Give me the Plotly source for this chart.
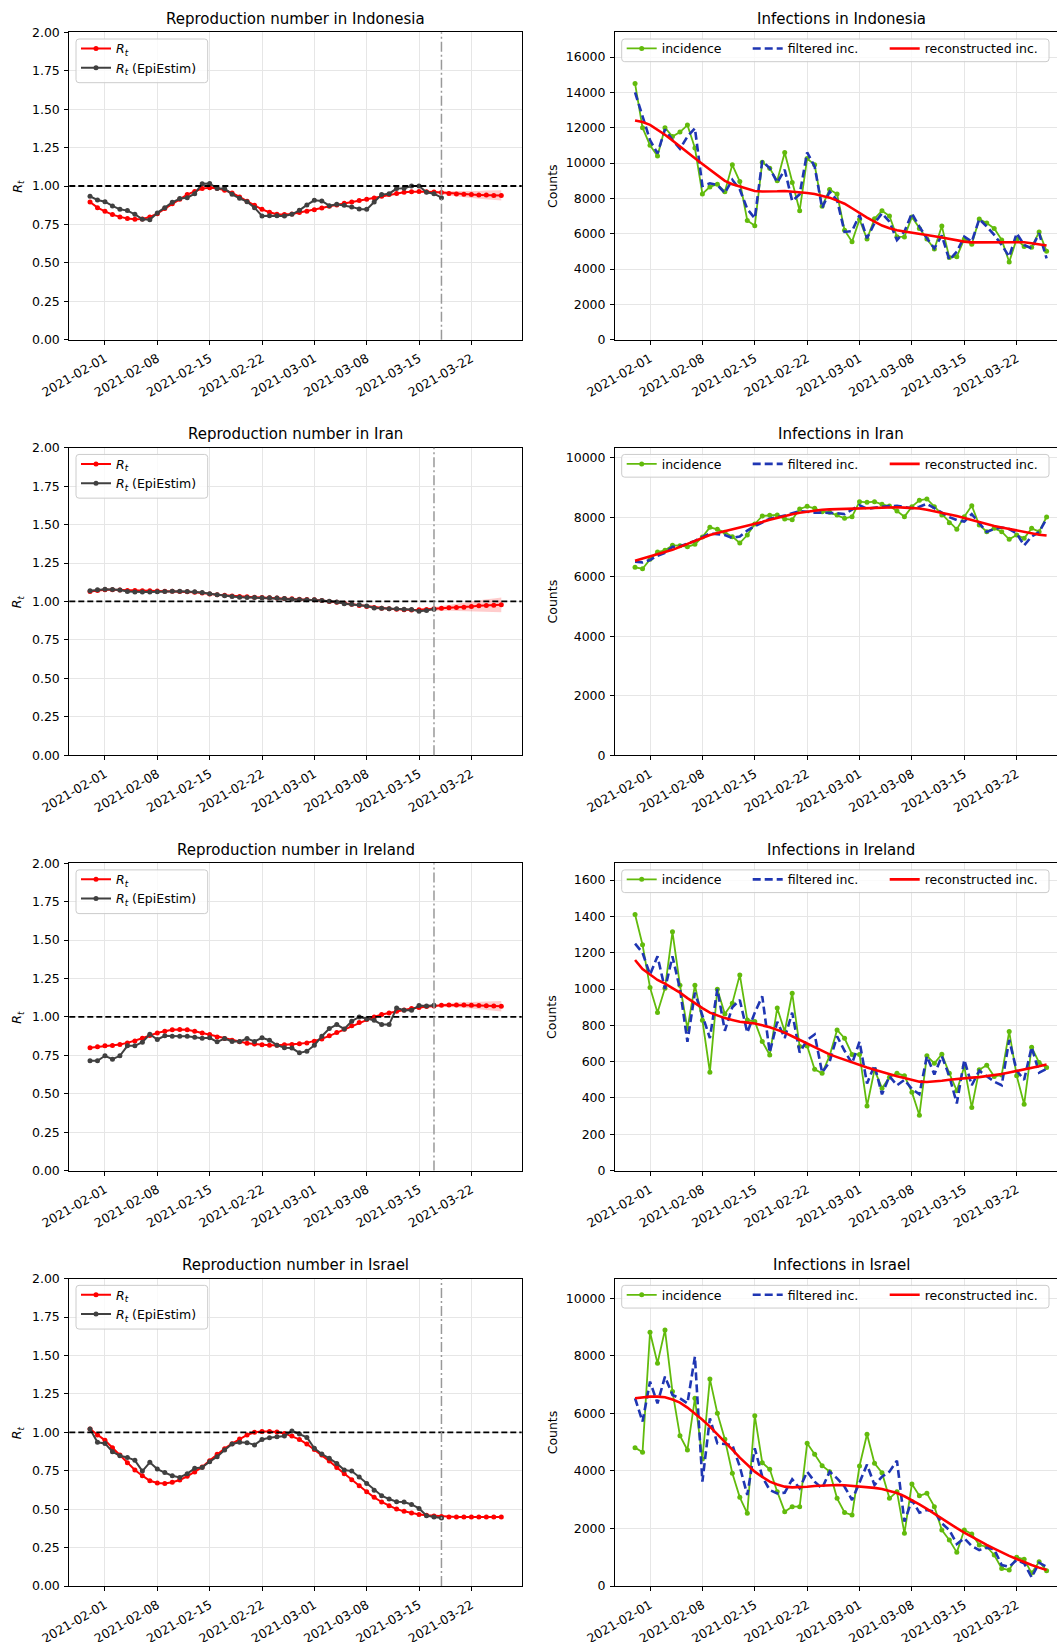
import pandas as pd
import plotly.graph_objects as go

# ---------------- data ----------------
dates = [d.strftime("%Y-%m-%d") for d in pd.date_range("2021-01-30", "2021-03-26", freq="D")]
tick_dates = ["2021-02-01", "2021-02-08", "2021-02-15", "2021-02-22",
              "2021-03-01", "2021-03-08", "2021-03-15", "2021-03-22"]
countries = ["Indonesia", "Iran", "Ireland", "Israel"]
cutoff_dates = ["2021-03-18", "2021-03-17", "2021-03-17", "2021-03-18"]
band_dates = dates[44:]
rt_threshold = 1.0

# Reproduction number (model) per country
rt_indonesia = [0.896, 0.859, 0.835, 0.814, 0.799, 0.788, 0.784, 0.786, 0.799, 0.820,
                0.853, 0.885, 0.913, 0.944, 0.965, 0.983, 0.989, 0.985, 0.972, 0.955,
                0.929, 0.900, 0.874, 0.848, 0.829, 0.816, 0.814, 0.818, 0.827, 0.835,
                0.846, 0.857, 0.868, 0.877, 0.887, 0.896, 0.905, 0.913, 0.922, 0.933,
                0.944, 0.952, 0.959, 0.963, 0.965, 0.963, 0.961, 0.957, 0.952, 0.948,
                0.946, 0.944, 0.942, 0.942, 0.939, 0.939]
rt_iran = [1.065, 1.072, 1.076, 1.076, 1.074, 1.072, 1.071, 1.070, 1.069, 1.068,
           1.067, 1.066, 1.065, 1.063, 1.060, 1.055, 1.048, 1.044, 1.040, 1.036,
           1.032, 1.030, 1.028, 1.026, 1.024, 1.022, 1.020, 1.017, 1.015, 1.013,
           1.011, 1.006, 1.000, 0.994, 0.989, 0.982, 0.974, 0.967, 0.961, 0.956,
           0.952, 0.949, 0.946, 0.945, 0.946, 0.948, 0.952, 0.956, 0.959, 0.961,
           0.963, 0.967, 0.972, 0.974, 0.976, 0.978]
rt_ireland = [0.799, 0.805, 0.812, 0.814, 0.820, 0.831, 0.844, 0.861, 0.879, 0.896,
              0.907, 0.916, 0.918, 0.916, 0.907, 0.896, 0.885, 0.870, 0.859, 0.848,
              0.838, 0.829, 0.823, 0.818, 0.816, 0.816, 0.818, 0.820, 0.825, 0.831,
              0.842, 0.857, 0.877, 0.898, 0.920, 0.942, 0.963, 0.983, 1.000, 1.015,
              1.026, 1.037, 1.045, 1.054, 1.061, 1.067, 1.071, 1.076, 1.078, 1.078,
              1.078, 1.076, 1.074, 1.072, 1.071, 1.069]
rt_israel = [1.022, 0.983, 0.948, 0.900, 0.852, 0.803, 0.755, 0.718, 0.685, 0.670,
             0.668, 0.675, 0.690, 0.714, 0.742, 0.774, 0.816, 0.857, 0.894, 0.926,
             0.957, 0.983, 1.000, 1.006, 1.006, 1.002, 0.993, 0.976, 0.954, 0.924,
             0.889, 0.852, 0.813, 0.772, 0.731, 0.692, 0.653, 0.614, 0.577, 0.547,
             0.523, 0.501, 0.486, 0.475, 0.466, 0.460, 0.456, 0.453, 0.450, 0.449,
             0.449, 0.449, 0.449, 0.449, 0.449, 0.449]

# Half-width of the uncertainty band (from 2021-03-15 onwards)
band_indonesia = [0.002, 0.004, 0.007, 0.010, 0.013, 0.016, 0.019, 0.022, 0.025, 0.028, 0.031, 0.034]
band_iran = [0.004, 0.008, 0.012, 0.016, 0.020, 0.024, 0.028, 0.032, 0.036, 0.040, 0.044, 0.048]
band_ireland = [0.002, 0.004, 0.007, 0.010, 0.013, 0.016, 0.019, 0.022, 0.025, 0.028, 0.031, 0.034]
band_israel = [0.001, 0.001, 0.002, 0.002, 0.003, 0.003, 0.004, 0.004, 0.005, 0.005, 0.006, 0.006]

# Reproduction number (EpiEstim)
epi_indonesia = [0.933, 0.909, 0.898, 0.870, 0.848, 0.840, 0.816, 0.784, 0.781, 0.825,
                 0.859, 0.894, 0.918, 0.924, 0.950, 1.015, 1.017, 0.983, 0.983, 0.946,
                 0.920, 0.898, 0.859, 0.805, 0.807, 0.807, 0.805, 0.816, 0.842, 0.877,
                 0.907, 0.903, 0.872, 0.881, 0.874, 0.864, 0.851, 0.848, 0.896, 0.944,
                 0.950, 0.983, 0.985, 1.000, 1.000, 0.959, 0.950, 0.924]
epi_iran = [1.069, 1.076, 1.080, 1.078, 1.074, 1.065, 1.061, 1.061, 1.061, 1.063,
            1.065, 1.067, 1.067, 1.065, 1.063, 1.058, 1.050, 1.043, 1.037, 1.032,
            1.028, 1.026, 1.026, 1.024, 1.024, 1.022, 1.020, 1.015, 1.013, 1.011,
            1.011, 1.006, 1.002, 0.996, 0.985, 0.981, 0.978, 0.970, 0.957, 0.955,
            0.952, 0.952, 0.950, 0.948, 0.937, 0.941, 0.950]
epi_ireland = [0.714, 0.714, 0.747, 0.725, 0.747, 0.812, 0.812, 0.835, 0.887, 0.853,
               0.877, 0.874, 0.874, 0.874, 0.868, 0.861, 0.864, 0.838, 0.859, 0.840,
               0.840, 0.859, 0.840, 0.864, 0.848, 0.816, 0.799, 0.797, 0.766, 0.777,
               0.816, 0.874, 0.924, 0.950, 0.922, 0.972, 1.000, 0.987, 0.978, 0.950,
               0.950, 1.058, 1.043, 1.043, 1.074, 1.071, 1.076]
epi_israel = [1.022, 0.935, 0.928, 0.874, 0.848, 0.837, 0.818, 0.748, 0.805, 0.761,
              0.738, 0.718, 0.707, 0.731, 0.766, 0.772, 0.809, 0.842, 0.885, 0.924,
              0.935, 0.933, 0.918, 0.954, 0.965, 0.972, 0.976, 1.009, 0.989, 0.967,
              0.896, 0.859, 0.831, 0.798, 0.755, 0.748, 0.709, 0.668, 0.623, 0.588,
              0.566, 0.549, 0.547, 0.531, 0.505, 0.458, 0.449, 0.443]

# Daily incidence
inc_indonesia = [14500, 12000, 11000, 10400, 12000, 11500, 11750, 12150, 10850, 8250,
                 8650, 8800, 8380, 9900, 8950, 6750, 6450, 10050, 9700, 9000,
                 10600, 8900, 7300, 10250, 9900, 7550, 8500, 8250, 6200, 5550,
                 6800, 5700, 6850, 7300, 7000, 5830, 5820, 6950, 6300, 5700,
                 5130, 6430, 4650, 4700, 5700, 5400, 6830, 6600, 6300, 5650,
                 4400, 5700, 5270, 5230, 6100, 5000]
inc_iran = [6312, 6267, 6581, 6827, 6883, 7052, 7040, 7006, 7085, 7332,
            7657, 7590, 7489, 7343, 7130, 7399, 7769, 8038, 8060, 8072,
            7937, 7915, 8274, 8363, 8296, 8184, 8161, 8072, 7960, 8016,
            8520, 8498, 8520, 8430, 8374, 8206, 8016, 8352, 8565, 8610,
            8352, 8072, 7814, 7590, 8016, 8386, 7735, 7511, 7623, 7511,
            7253, 7399, 7287, 7623, 7511, 8004]
inc_ireland = [1411, 1244, 1008, 871, 1005, 1315, 1021, 781, 1021, 828,
               542, 999, 862, 922, 1078, 830, 821, 711, 637, 895,
               766, 977, 683, 687, 558, 536, 632, 775, 729, 640,
               640, 356, 555, 454, 514, 536, 522, 432, 305, 632,
               591, 641, 536, 440, 573, 347, 555, 580, 518, 527,
               766, 523, 365, 680, 595, 568]
inc_israel = [4809, 4647, 8818, 7740, 8900, 6755, 5226, 4728, 6524, 4415,
              7196, 6002, 5098, 3917, 3082, 2526, 5921, 4287, 4056, 3279,
              2584, 2758, 2758, 4959, 4577, 4183, 3975, 3048, 2555, 2468,
              4171, 5272, 4264, 3940, 3048, 3279, 1831, 3546, 3140, 3221,
              2758, 1947, 1599, 1170, 1947, 1808, 1425, 1367, 1078, 614,
              556, 997, 927, 450, 846, 533]

# Filtered incidence
filt_indonesia = [14000, 12600, 11300, 10550, 11900, 11300, 10800, 11500, 11970, 8700,
                  8850, 8760, 8300, 9050, 8500, 7400, 6870, 10120, 9700, 8900,
                  9620, 7850, 8230, 10600, 9800, 7450, 8380, 7900, 6100, 6150,
                  7060, 5740, 6590, 7150, 6680, 5640, 6120, 7150, 6400, 5740,
                  5170, 5900, 4510, 4980, 5830, 5550, 6830, 6400, 5930, 5360,
                  4700, 6020, 5360, 5170, 6020, 4600]
filt_iran = [6500, 6480, 6560, 6700, 6800, 7000, 7020, 7100, 7200, 7330,
             7450, 7430, 7400, 7300, 7350, 7550, 7700, 7820, 7950, 8000,
             8050, 8130, 8200, 8180, 8150, 8150, 8150, 8130, 8100, 8250,
             8400, 8280, 8320, 8350, 8370, 8380, 8340, 8300, 8350, 8450,
             8300, 8150, 8000, 7900, 7850, 8100, 7800, 7500, 7600, 7650,
             7600, 7450, 7050, 7350, 7500, 7950]
filt_ireland = [1250, 1200, 1080, 1180, 1000, 1180, 1000, 710, 980, 850,
                730, 1000, 770, 900, 940, 760, 870, 960, 650, 820,
                730, 870, 650, 720, 750, 540, 600, 740, 660, 590,
                710, 480, 580, 420, 520, 470, 500, 450, 420, 630,
                530, 630, 520, 370, 610, 470, 550, 520, 490, 470,
                720, 550, 500, 680, 540, 560]
filt_israel = [6524, 5713, 7103, 6350, 7277, 6640, 6524, 6350, 7972, 3627,
               5829, 4959, 4936, 4901, 4148, 3163, 4786, 3800, 3337, 3221,
               3245, 3708, 3395, 3975, 3627, 3395, 3975, 3743, 3450, 2990,
               3600, 4220, 3511, 3800, 3975, 4357, 2236, 2990, 2549, 2642,
               2584, 2178, 1947, 1460, 1657, 1390, 1251, 1333, 1275, 730,
               672, 904, 788, 301, 811, 672]

# Reconstructed incidence
rec_indonesia = [12410, 12320, 12160, 11900, 11600, 11280, 10930, 10600, 10270, 9940,
                 9610, 9290, 8990, 8800, 8660, 8520, 8420, 8390, 8380, 8400,
                 8420, 8390, 8345, 8300, 8250, 8160, 8040, 7870, 7700, 7440,
                 7150, 6910, 6680, 6460, 6310, 6190, 6120, 6060, 6010, 5930,
                 5860, 5780, 5690, 5610, 5550, 5510, 5510, 5520, 5540, 5550,
                 5550, 5540, 5520, 5460, 5400, 5330]
rec_iran = [6530, 6600, 6680, 6750, 6820, 6900, 7000, 7100, 7200, 7300,
            7400, 7470, 7530, 7590, 7650, 7700, 7770, 7840, 7910, 7980,
            8050, 8100, 8150, 8190, 8220, 8250, 8260, 8270, 8280, 8290,
            8300, 8310, 8320, 8330, 8330, 8330, 8320, 8310, 8290, 8250,
            8200, 8150, 8100, 8040, 7970, 7900, 7830, 7760, 7700, 7650,
            7600, 7550, 7500, 7450, 7410, 7380]
rec_ireland = [1160, 1110, 1080, 1050, 1030, 1005, 980, 950, 920, 895,
               870, 855, 840, 830, 820, 815, 810, 800, 790, 775,
               760, 740, 720, 700, 680, 660, 640, 625, 610, 595,
               580, 568, 555, 542, 530, 520, 510, 500, 490, 488,
               490, 495, 500, 505, 510, 512, 515, 520, 525, 532,
               540, 548, 555, 565, 575, 585]
rec_israel = [6524, 6560, 6582, 6580, 6560, 6480, 6373, 6200, 6002, 5780,
              5539, 5280, 5017, 4740, 4461, 4200, 3975, 3790, 3627, 3530,
              3453, 3430, 3430, 3450, 3476, 3495, 3511, 3510, 3500, 3480,
              3460, 3440, 3410, 3370, 3310, 3230, 3120, 2990, 2840, 2680,
              2510, 2340, 2170, 2010, 1860, 1710, 1570, 1430, 1300, 1170,
              1050, 940, 830, 730, 640, 560]

rt_series = [rt_indonesia, rt_iran, rt_ireland, rt_israel]
band_series = [band_indonesia, band_iran, band_ireland, band_israel]
epi_series = [epi_indonesia, epi_iran, epi_ireland, epi_israel]
inc_series = [inc_indonesia, inc_iran, inc_ireland, inc_israel]
filt_series = [filt_indonesia, filt_iran, filt_ireland, filt_israel]
rec_series = [rec_indonesia, rec_iran, rec_ireland, rec_israel]
count_tick_steps = [2000, 2000, 200, 2000]

# ---------------- layout geometry (pixels) ----------------
W, H = 1057, 1642
LEFT_X = (69.3, 521.7)
RIGHT_X = (615.0, 1057.0)
ROW_TOP0, ROW_STEP, ROW_H = 32.3, 415.45, 307.4
FONT = "DejaVu Sans"
RED = "#ff0000"
DARK = "#404040"
GREEN = "#62bb0c"
BLUE = "#1f36b3"
GRID = "#e6e6e6"
RT_NAME = "<i>R</i><sub><i>t</i></sub>"

feb1 = pd.Timestamp("2021-02-01")
fmt = "%Y-%m-%d %H:%M:%S"
left_range = [(feb1 + pd.Timedelta(days=-4.77)).strftime(fmt), (feb1 + pd.Timedelta(days=55.73)).strftime(fmt)]
right_range = [(feb1 + pd.Timedelta(days=-4.68)).strftime(fmt), (feb1 + pd.Timedelta(days=54.39)).strftime(fmt)]

fig = go.Figure()
layout = dict(width=W, height=H, margin=dict(l=0, r=0, t=0, b=0, pad=0, autoexpand=False), autosize=False,
              paper_bgcolor="white", plot_bgcolor="white",
              font=dict(family=FONT, size=12.5, color="#000000"),
              shapes=[], annotations=[])

tickfont = dict(family=FONT, size=12.5, color="#000000")


def axis_common():
    return dict(showgrid=True, gridcolor=GRID, gridwidth=1, showline=True, linecolor="black",
                linewidth=1, ticks="outside", ticklen=4, tickwidth=1, tickcolor="black",
                zeroline=False, tickfont=tickfont, ticklabelstandoff=2, automargin=False)


def rounded_box(x0, y0, x1, y1, rad=3.0):
    """Rounded rectangle path in paper coordinates from pixel corners (top-left origin)."""
    def X(v):
        return v / W

    def Y(v):
        return 1 - v / H
    return (f"M {X(x0 + rad)},{Y(y0)} L {X(x1 - rad)},{Y(y0)} Q {X(x1)},{Y(y0)} {X(x1)},{Y(y0 + rad)} "
            f"L {X(x1)},{Y(y1 - rad)} Q {X(x1)},{Y(y1)} {X(x1 - rad)},{Y(y1)} "
            f"L {X(x0 + rad)},{Y(y1)} Q {X(x0)},{Y(y1)} {X(x0)},{Y(y1 - rad)} "
            f"L {X(x0)},{Y(y0 + rad)} Q {X(x0)},{Y(y0)} {X(x0 + rad)},{Y(y0)} Z")


for r, country in enumerate(countries):
    top = ROW_TOP0 + r * ROW_STEP
    bot = top + ROW_H
    ydom = [1 - bot / H, 1 - top / H]
    for side in (0, 1):
        k = 2 * r + 1 + side
        xs = "" if k == 1 else str(k)
        xdom = LEFT_X if side == 0 else RIGHT_X
        xa = axis_common()
        xa.update(domain=[xdom[0] / W, xdom[1] / W], anchor="y" + xs, type="date",
                  range=left_range if side == 0 else right_range,
                  tickvals=tick_dates, ticktext=tick_dates, tickangle=-30, mirror=True)
        ya = axis_common()
        if side == 0:
            ya.update(domain=ydom, anchor="x" + xs, range=[0, 2], tick0=0, dtick=0.25,
                      tickformat=".2f", mirror=True)
        else:
            ya.update(domain=ydom, anchor="x" + xs, range=[0, 1.2 * max(inc_series[r])],
                      tick0=0, dtick=count_tick_steps[r], tickformat="d", mirror=False)
        layout["xaxis" + xs] = xa
        layout["yaxis" + xs] = ya
        leg = "legend" + ("" if k == 1 else str(k))

        if side == 0:
            rt_b = rt_series[r][44:]
            hw = band_series[r]
            fig.add_trace(go.Scatter(x=band_dates, y=[v - h for v, h in zip(rt_b, hw)], mode="lines",
                                     line=dict(width=0, color="rgba(255,0,0,0)"), showlegend=False,
                                     hoverinfo="skip", xaxis="x" + xs, yaxis="y" + xs))
            fig.add_trace(go.Scatter(x=band_dates, y=[v + h for v, h in zip(rt_b, hw)], mode="lines",
                                     line=dict(width=0, color="rgba(255,0,0,0)"), fill="tonexty",
                                     fillcolor="rgba(255,0,0,0.2)", showlegend=False,
                                     hoverinfo="skip", xaxis="x" + xs, yaxis="y" + xs))
            fig.add_trace(go.Scatter(x=dates, y=rt_series[r], mode="lines+markers", name=RT_NAME,
                                     line=dict(color=RED, width=2), marker=dict(color=RED, size=5),
                                     xaxis="x" + xs, yaxis="y" + xs, legend=leg))
            fig.add_trace(go.Scatter(x=dates[:len(epi_series[r])], y=epi_series[r], mode="lines+markers",
                                     name=RT_NAME + " (EpiEstim)",
                                     line=dict(color=DARK, width=2), marker=dict(color=DARK, size=5),
                                     xaxis="x" + xs, yaxis="y" + xs, legend=leg))
            layout["shapes"].append(dict(type="line", xref="x" + xs + " domain", x0=0, x1=1,
                                         yref="y" + xs, y0=rt_threshold, y1=rt_threshold,
                                         line=dict(color="black", width=1.8, dash="6px,3px"), layer="above"))
            layout["shapes"].append(dict(type="line", xref="x" + xs, x0=cutoff_dates[r], x1=cutoff_dates[r],
                                         yref="y" + xs + " domain", y0=0, y1=1,
                                         line=dict(color="#999999", width=1.5, dash="10px,3px,2px,3px"),
                                         layer="above"))
            layout["shapes"].append(dict(type="path", xref="paper", yref="paper",
                                         path=rounded_box(76.0, top + 6.7, 207.7, top + 50.4),
                                         fillcolor="rgba(255,255,255,0.8)",
                                         line=dict(color="#cccccc", width=1), layer="above"))
            layout[leg] = dict(x=76 / W, y=1 - (top + 1.5) / H, xanchor="left", yanchor="top",
                               bgcolor="rgba(0,0,0,0)", borderwidth=0,
                               font=dict(family=FONT, size=12.5, color="black"), itemwidth=30,
                               traceorder="normal")
            title = "Reproduction number in " + country
            layout["annotations"].append(dict(text=RT_NAME, x=17.8 / W, y=1 - (top + ROW_H / 2) / H,
                                              xref="paper", yref="paper", showarrow=False, textangle=-90,
                                              font=dict(family=FONT, size=12.5, color="black"),
                                              xanchor="center", yanchor="middle"))
            tx = (LEFT_X[0] + LEFT_X[1]) / 2
        else:
            fig.add_trace(go.Scatter(x=dates, y=inc_series[r], mode="lines+markers", name="incidence",
                                     line=dict(color=GREEN, width=1.8), marker=dict(color=GREEN, size=5),
                                     xaxis="x" + xs, yaxis="y" + xs, legend=leg, legendwidth=81))
            fig.add_trace(go.Scatter(x=dates, y=filt_series[r], mode="lines", name="filtered inc.",
                                     line=dict(color=BLUE, width=2.6, dash="8px,4px"),
                                     xaxis="x" + xs, yaxis="y" + xs, legend=leg, legendwidth=92))
            fig.add_trace(go.Scatter(x=dates, y=rec_series[r], mode="lines", name="reconstructed inc.",
                                     line=dict(color=RED, width=2.6),
                                     xaxis="x" + xs, yaxis="y" + xs, legend=leg, legendwidth=120))
            layout["shapes"].append(dict(type="path", xref="paper", yref="paper",
                                         path=rounded_box(621.7, top + 6.7, 1049.0, top + 29.4),
                                         fillcolor="rgba(255,255,255,0.8)",
                                         line=dict(color="#cccccc", width=1), layer="above"))
            layout[leg] = dict(x=621.7 / W, y=1 - (top + 1.5) / H, xanchor="left", yanchor="top",
                               orientation="h", bgcolor="rgba(0,0,0,0)", borderwidth=0,
                               font=dict(family=FONT, size=12.5, color="black"),
                               itemwidth=30, traceorder="normal")
            title = "Infections in " + country
            layout["annotations"].append(dict(text="Counts", x=552 / W, y=1 - (top + ROW_H / 2) / H,
                                              xref="paper", yref="paper", showarrow=False, textangle=-90,
                                              font=dict(family=FONT, size=12.5, color="black"),
                                              xanchor="center", yanchor="middle"))
            tx = 841.0
        layout["annotations"].append(dict(text=title, x=tx / W, y=1 - (top - 13.3) / H, xref="paper",
                                          yref="paper", showarrow=False, xanchor="center", yanchor="middle",
                                          font=dict(family=FONT, size=15, color="black")))

fig.update_layout(**layout)
fig.write_html("out.html")
